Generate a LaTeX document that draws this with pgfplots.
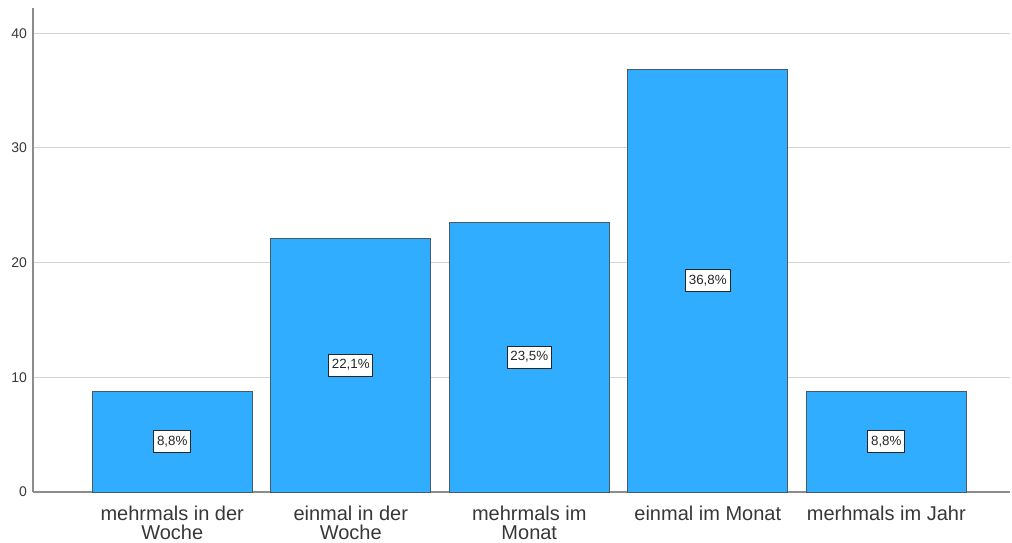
\documentclass[border=0pt]{standalone}
\usepackage{fontspec}
\setmainfont{Liberation Sans}
\usepackage{pgfplots}
\pgfplotsset{compat=1.18}
\definecolor{barblue}{RGB}{49,173,255}
\definecolor{baredge}{RGB}{70,90,105}
\definecolor{axisgray}{RGB}{140,140,140}
\definecolor{gridgray}{RGB}{212,212,212}
\definecolor{labelgray}{RGB}{55,55,55}
\begin{document}
\begin{tikzpicture}
\begin{axis}[
  name=ax, at={(0,0)}, anchor=south west,
  scale only axis, width=732.75pt, height=363pt,
  xmin=-0.78, xmax=4.693, ymin=0, ymax=42.2,
  axis lines=left,
  axis line style={-, draw=axisgray, line width=0.8pt},
  ytick={0,10,20,30,40},
  xtick=data,
  xticklabels={{mehrmals in der\\Woche},{einmal in der\\Woche},{mehrmals im\\Monat},{einmal im Monat},{merhmals im Jahr}},
  major tick length=0pt,
  ymajorgrids,
  grid style={draw=gridgray, line width=0.8pt},
  /pgf/number format/assume math mode=true,
  yticklabel style={font=\fontsize{10.5}{12}\selectfont, text=labelgray, xshift=-1pt},
  xticklabel style={align=center, font=\fontsize{15}{14}\selectfont, text=labelgray, yshift=-7pt},
  ybar, bar width=0.896, bar shift=0pt,
  visualization depends on={y \as \rawy},
  nodes near coords={\pgfmathprintnumber[fixed,fixed zerofill,precision=1,use comma]{\pgfplotspointmeta}\%},
  nodes near coords style={anchor=center, shift={(axis direction cs:0,-\rawy/2)},
    draw=black!85, line width=0.75pt, fill=white, inner xsep=2.5pt, inner ysep=3.5pt,
    text height=7.5pt, text depth=2pt,
    font=\fontsize{10}{12}\selectfont, text=black!85},
]
\addplot[fill=barblue, draw=baredge, line width=0.7pt]
  coordinates {(0,8.8) (1,22.1) (2,23.5) (3,36.8) (4,8.8)};
\end{axis}
\pgfresetboundingbox
\path (-24.75pt,-37.5pt) rectangle (734.25pt,369pt);
\end{tikzpicture}
\end{document}
